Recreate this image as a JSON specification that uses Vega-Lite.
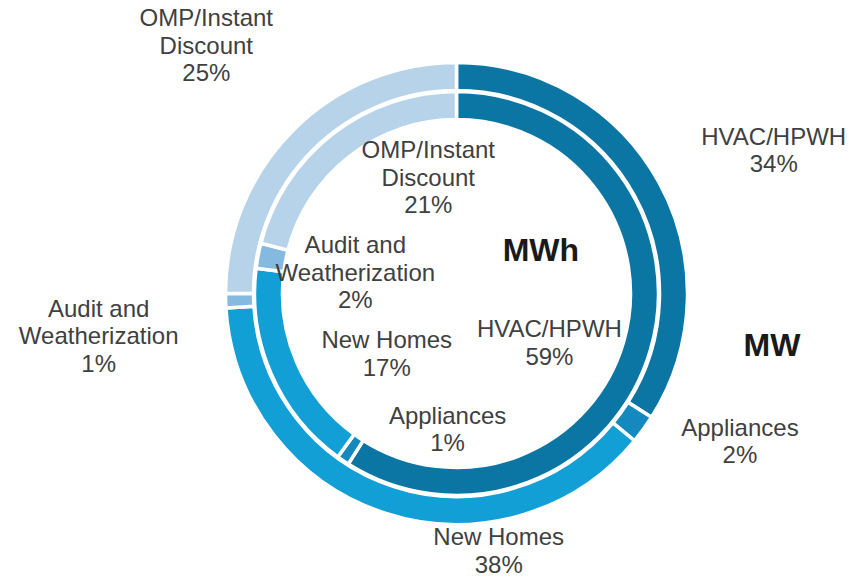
{
  "$schema": "https://vega.github.io/schema/vega-lite/v6.json",
  "width": 785,
  "height": 569,
  "autosize": {"type": "none"},
  "padding": {"left": 64, "top": 9, "right": 0, "bottom": 0},
  "background": "#ffffff",
  "config": {
    "view": {"stroke": null},
    "text": {"font": "Liberation Sans", "fontSize": 24, "fill": "#404040", "lineBreak": "|", "lineHeight": 27.5, "align": "center", "baseline": "middle"}
  },
  "data": {
    "values": [
      {"ring": "MW", "category": "HVAC/HPWH", "value": 34, "order": 1, "label": "HVAC/HPWH|34%"},
      {"ring": "MW", "category": "Appliances", "value": 2, "order": 2, "label": "Appliances|2%"},
      {"ring": "MW", "category": "New Homes", "value": 38, "order": 3, "label": "New Homes|38%"},
      {"ring": "MW", "category": "Audit and Weatherization", "value": 1, "order": 4, "label": "Audit and|Weatherization|1%"},
      {"ring": "MW", "category": "OMP/Instant Discount", "value": 25, "order": 5, "label": "OMP/Instant|Discount|25%"},
      {"ring": "MWh", "category": "HVAC/HPWH", "value": 59, "order": 1, "label": "HVAC/HPWH|59%"},
      {"ring": "MWh", "category": "Appliances", "value": 1, "order": 2, "label": "Appliances|1%"},
      {"ring": "MWh", "category": "New Homes", "value": 17, "order": 3, "label": "New Homes|17%"},
      {"ring": "MWh", "category": "Audit and Weatherization", "value": 2, "order": 4, "label": "Audit and|Weatherization|2%"},
      {"ring": "MWh", "category": "OMP/Instant Discount", "value": 21, "order": 5, "label": "OMP/Instant|Discount|21%"}
    ]
  },
  "encoding": {
    "theta": {"field": "value", "type": "quantitative", "stack": true},
    "order": {"field": "order", "type": "quantitative"}
  },
  "layer": [
    {
      "transform": [{"filter": "datum.ring === 'MW'"}],
      "mark": {"type": "arc", "radius": 231, "radius2": 203, "stroke": "#ffffff", "strokeWidth": 3.5},
      "encoding": {
        "color": {"field": "category", "type": "nominal", "legend": null,
          "scale": {"domain": ["HVAC/HPWH", "Appliances", "New Homes", "Audit and Weatherization", "OMP/Instant Discount"],
                    "range": ["#0B75A3", "#1389BE", "#119FD6", "#85BAE0", "#B7D3EA"]}}
      }
    },
    {
      "transform": [{"filter": "datum.ring === 'MWh'"}],
      "mark": {"type": "arc", "radius": 202, "radius2": 174, "stroke": "#ffffff", "strokeWidth": 3.5},
      "encoding": {
        "color": {"field": "category", "type": "nominal", "legend": null}
      }
    },
    {
      "transform": [{"filter": "datum.ring === 'MW'"}],
      "mark": {"type": "text", "radius": 346, "dx": 14, "dy": 11},
      "encoding": {"detail": {"field": "category"}, "text": {"condition": {"test": "datum.category === 'HVAC/HPWH'", "field": "label"}, "value": ""}}
    },
    {
      "transform": [{"filter": "datum.ring === 'MW'"}],
      "mark": {"type": "text", "radius": 317, "dx": 27, "dy": -51},
      "encoding": {"detail": {"field": "category"}, "text": {"condition": {"test": "datum.category === 'Appliances'", "field": "label"}, "value": ""}}
    },
    {
      "transform": [{"filter": "datum.ring === 'MW'"}],
      "mark": {"type": "text", "radius": 255, "dx": 121, "dy": 2},
      "encoding": {"detail": {"field": "category"}, "text": {"condition": {"test": "datum.category === 'New Homes'", "field": "label"}, "value": ""}}
    },
    {
      "transform": [{"filter": "datum.ring === 'MW'"}],
      "mark": {"type": "text", "radius": 358, "dx": 0, "dy": 5},
      "encoding": {"detail": {"field": "category"}, "text": {"condition": {"test": "datum.category === 'Audit and Weatherization'", "field": "label"}, "value": ""}}
    },
    {
      "transform": [{"filter": "datum.ring === 'MW'"}],
      "mark": {"type": "text", "radius": 351, "dx": -2, "dy": -26},
      "encoding": {"detail": {"field": "category"}, "text": {"condition": {"test": "datum.category === 'OMP/Instant Discount'", "field": "label"}, "value": ""}}
    },
    {
      "transform": [{"filter": "datum.ring === 'MWh'"}],
      "mark": {"type": "text", "radius": 103, "dx": -6, "dy": 8},
      "encoding": {"detail": {"field": "category"}, "text": {"condition": {"test": "datum.category === 'HVAC/HPWH'", "field": "label"}, "value": ""}}
    },
    {
      "transform": [{"filter": "datum.ring === 'MWh'"}],
      "mark": {"type": "text", "radius": 119, "dx": 58, "dy": 25},
      "encoding": {"detail": {"field": "category"}, "text": {"condition": {"test": "datum.category === 'Appliances'", "field": "label"}, "value": ""}}
    },
    {
      "transform": [{"filter": "datum.ring === 'MWh'"}],
      "mark": {"type": "text", "radius": 88, "dx": 11, "dy": 13},
      "encoding": {"detail": {"field": "category"}, "text": {"condition": {"test": "datum.category === 'New Homes'", "field": "label"}, "value": ""}}
    },
    {
      "transform": [{"filter": "datum.ring === 'MWh'"}],
      "mark": {"type": "text", "radius": 103, "dx": 0, "dy": -28},
      "encoding": {"detail": {"field": "category"}, "text": {"condition": {"test": "datum.category === 'Audit and Weatherization'", "field": "label"}, "value": ""}}
    },
    {
      "transform": [{"filter": "datum.ring === 'MWh'"}],
      "mark": {"type": "text", "radius": 108, "dx": 38, "dy": -57},
      "encoding": {"detail": {"field": "category"}, "text": {"condition": {"test": "datum.category === 'OMP/Instant Discount'", "field": "label"}, "value": ""}}
    },
    {
      "transform": [{"filter": "datum.ring === 'MW'"}],
      "mark": {"type": "text", "radius": 94, "dx": 2, "dy": 3, "fontSize": 32, "fontWeight": "bold", "fill": "#1a1a1a"},
      "encoding": {"detail": {"field": "category"}, "text": {"condition": {"test": "datum.category === 'HVAC/HPWH'", "value": "MWh"}, "value": ""}}
    },
    {
      "transform": [{"filter": "datum.ring === 'MWh'"}],
      "mark": {"type": "text", "radius": 317, "dx": 11, "dy": -36, "fontSize": 32, "fontWeight": "bold", "fill": "#1a1a1a"},
      "encoding": {"detail": {"field": "category"}, "text": {"condition": {"test": "datum.category === 'HVAC/HPWH'", "value": "MW"}, "value": ""}}
    }
  ]
}
